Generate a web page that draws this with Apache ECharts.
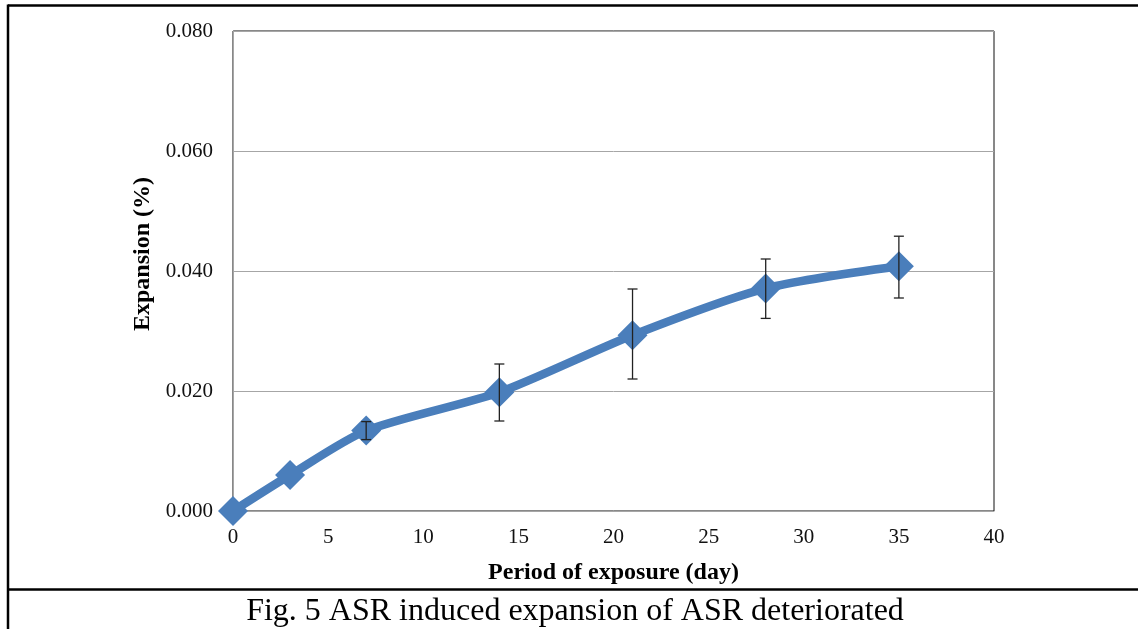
<!DOCTYPE html>
<html>
<head>
<meta charset="utf-8">
<script src="https://cdn.jsdelivr.net/npm/echarts@6/dist/echarts.min.js"></script>
<style>
html,body{margin:0;padding:0;background:#fff;}
#chart{width:1138px;height:629px;}
</style>
</head>
<body>
<div id="chart"></div>
<script>
const days = [0, 3, 7, 14, 21, 28, 35];
const expansion = [0.0000, 0.0060, 0.0134, 0.0198, 0.0293, 0.0371, 0.0408];
const errLow = [null, null, 0.0119, 0.0150, 0.0220, 0.0321, 0.0355];
const errHigh = [null, null, 0.0149, 0.0245, 0.0370, 0.0420, 0.0458];
const xTicks = [0, 5, 10, 15, 20, 25, 30, 35, 40];
const yTicks = [0, 0.02, 0.04, 0.06, 0.08];
const xTitle = 'Period of exposure (day)';
const yTitle = 'Expansion (%)';
const caption = 'Fig. 5 ASR induced expansion of ASR deteriorated';

const FONT = '"Liberation Serif", "Times New Roman", serif';
const chart = echarts.init(document.getElementById('chart'), null, {renderer: 'canvas'});

const lineData = days.map((d, i) => [d, expansion[i]]);
const errData = [];
days.forEach((d, i) => { if (errLow[i] != null) errData.push([d, errLow[i], errHigh[i]]); });

chart.setOption({
  animation: false,
  backgroundColor: '#fff',
  grid: {left: 233, right: 144, top: 31, bottom: 118, show: true, borderColor: '#111', borderWidth: 1, backgroundColor: 'transparent'},
  xAxis: {
    type: 'value', min: 0, max: 40, interval: 5,
    name: xTitle, nameLocation: 'middle', nameGap: 50,
    nameTextStyle: {fontFamily: FONT, fontWeight: 'bold', fontSize: 24, color: '#000'},
    axisLine: {show: true, onZero: false, lineStyle: {color: '#a6a6a6', width: 1}},
    axisTick: {show: false},
    splitLine: {show: false},
    axisLabel: {fontFamily: FONT, fontSize: 21, color: '#111', margin: 16,
      formatter: v => xTicks.includes(v) ? String(v) : ''}
  },
  yAxis: {
    type: 'value', min: 0, max: 0.08, interval: 0.02,
    axisLine: {show: true, lineStyle: {color: '#a6a6a6', width: 1}},
    axisTick: {show: false},
    splitLine: {show: true, lineStyle: {color: '#a6a6a6', width: 1}},
    axisLabel: {fontFamily: FONT, fontSize: 21, color: '#111', margin: 20,
      formatter: v => { const t = yTicks.find(k => Math.abs(k - v) < 1e-9); return t == null ? '' : t.toFixed(3); }}
  },
  series: [
    {
      type: 'line',
      data: lineData,
      smooth: 0.25,
      symbol: 'diamond',
      symbolSize: 30,
      lineStyle: {color: '#4a7ebb', width: 8.5},
      itemStyle: {color: '#4a7ebb'},
      z: 2
    },
    {
      type: 'custom',
      data: errData,
      z: 3,
      renderItem: function (params, api) {
        const x = api.value(0);
        const lo = api.coord([x, api.value(1)]);
        const hi = api.coord([x, api.value(2)]);
        const hw = 5;
        const st = {stroke: '#222', lineWidth: 1.3};
        return {
          type: 'group',
          children: [
            {type: 'line', shape: {x1: lo[0], y1: lo[1], x2: hi[0], y2: hi[1]}, style: st},
            {type: 'line', shape: {x1: lo[0] - hw, y1: lo[1], x2: lo[0] + hw, y2: lo[1]}, style: st},
            {type: 'line', shape: {x1: hi[0] - hw, y1: hi[1], x2: hi[0] + hw, y2: hi[1]}, style: st}
          ]
        };
      }
    }
  ],
  graphic: [
    {type: 'line', shape: {x1: 8, y1: 5.5, x2: 1138, y2: 5.5}, style: {stroke: '#000', lineWidth: 2.5}},
    {type: 'line', shape: {x1: 8, y1: 4.5, x2: 8, y2: 629}, style: {stroke: '#000', lineWidth: 2.5}},
    {type: 'line', shape: {x1: 8, y1: 589.5, x2: 1138, y2: 589.5}, style: {stroke: '#000', lineWidth: 2.5}},
    {type: 'text', x: 143, y: 254, rotation: Math.PI / 2,
      style: {text: yTitle, font: 'bold 24px ' + FONT, fill: '#000', align: 'center', verticalAlign: 'middle'}},
    {type: 'text', x: 575, y: 612, style: {text: caption, font: '32px ' + FONT, fill: '#000', align: 'center', verticalAlign: 'middle'}}
  ]
});
</script>
</body>
</html>
